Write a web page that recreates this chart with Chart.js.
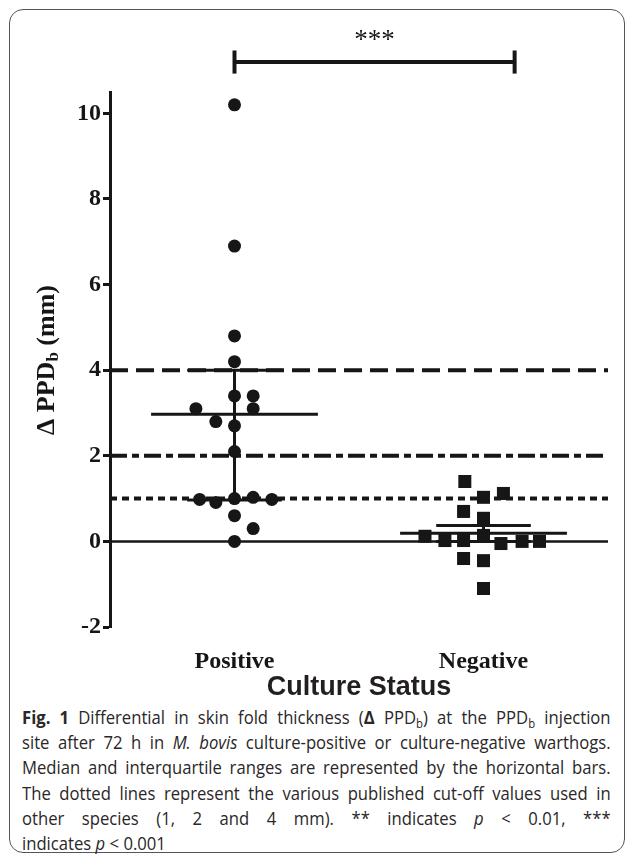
<!DOCTYPE html>
<html>
<head>
<meta charset="utf-8">
<script src="https://cdn.jsdelivr.net/npm/chart.js@4.4.1/dist/chart.umd.min.js"></script>
<style>
  html, body { margin: 0; padding: 0; background: #fff; }
  body { width: 627px; height: 858px; position: relative; overflow: hidden; }
  #frame { position: absolute; left: 9px; top: 9px; width: 616px; height: 844px; border: 1px solid #555; border-radius: 14px; box-sizing: border-box; }
  #chart { position: absolute; left: 0; top: 0; }
  #caption { position: absolute; left: 22px; top: 704px; width: 654px; transform: scaleX(0.9); transform-origin: 0 0; font-family: "Open Sans", sans-serif; font-size: 18.5px; line-height: 25.2px; color: #2a2728; }
  #caption div { white-space: nowrap; text-align: justify; text-align-last: justify; }
  #caption div.last { text-align-last: left; }
  #caption sub { font-size: 0.68em; line-height: 0; vertical-align: -0.3em; }
</style>
</head>
<body>
<div id="frame"></div>
<canvas id="chart" width="627" height="700"></canvas>
<div id="caption">
  <div><b>Fig. 1</b> Differential in skin fold thickness (<b>Δ</b> PPD<sub>b</sub>) at the PPD<sub>b</sub> injection</div>
  <div>site after 72 h in <i>M. bovis</i> culture-positive or culture-negative warthogs.</div>
  <div>Median and interquartile ranges are represented by the horizontal bars.</div>
  <div>The dotted lines represent the various published cut-off values used in</div>
  <div>other species (1, 2 and 4 mm). ** indicates <i>p</i> &lt; 0.01, ***</div>
  <div class="last">indicates <i>p</i> &lt; 0.001</div>
</div>
<script>
// группы и их позиции на оси x
const groups = ["Positive", "Negative"];
const groupX = [1, 3];

// значения (мм) и горизонтальный разброс точек внутри группы
const positiveValues = [10.2, 6.9, 4.8, 4.2, 3.4, 3.4, 3.1, 3.1, 2.8, 2.7, 2.1, 0.98, 0.91, 1.0, 1.03, 0.98, 0.6, 0.3, 0.0];
const positiveJitter = [0, 0, 0, 0, 0, 0.15, 0.15, -0.31, -0.15, 0, 0, -0.28, -0.15, 0, 0.15, 0.3, 0, 0.15, 0];
const negativeValues = [1.4, 1.03, 1.12, 0.7, 0.54, 0.12, 0.02, 0.02, 0.14, -0.05, 0.0, 0.0, -0.4, -0.45, -1.1];
const negativeJitter = [-0.15, 0, 0.16, -0.16, 0, -0.47, -0.31, -0.16, 0, 0.14, 0.31, 0.45, -0.16, 0, 0];

// медиана и квартили
const medians = [2.97, 0.19];
const lowerQuartiles = [0.97, 0.0];
const upperQuartiles = [4.0, 0.37];

// пороговые значения и подписи оси y
const cutoffs = [4, 2, 1];
const yTicks = [-2, 0, 2, 4, 6, 8, 10];

// скобка значимости
const bracketX = [1, 3.25];
const bracketY = 11.2;
const significance = "***";

const ink = "#161616";
const cutoffDash = { 4: [18, 8], 2: [17, 5, 7, 5], 1: [7, 5] };

function segment(x1, y1, x2, y2, extra) {
  return Object.assign({
    data: [{ x: x1, y: y1 }, { x: x2, y: y2 }],
    showLine: true,
    pointRadius: 0,
    borderColor: ink,
    borderWidth: 3,
    borderCapStyle: "butt",
  }, extra || {});
}

const datasets = [];

datasets.push({
  data: positiveValues.map((v, i) => ({ x: groupX[0] + positiveJitter[i], y: v })),
  pointStyle: "circle",
  pointRadius: 6.5,
  backgroundColor: ink,
  borderWidth: 0,
});
datasets.push({
  data: negativeValues.map((v, i) => ({ x: groupX[1] + negativeJitter[i], y: v })),
  pointStyle: "rect",
  pointRadius: 9.2,
  backgroundColor: ink,
  borderWidth: 0,
});

// медиана и межквартильный размах
groupX.forEach((gx, i) => {
  datasets.push(segment(gx - 0.67, medians[i], gx + 0.67, medians[i]));
  datasets.push(segment(gx - 0.38, upperQuartiles[i], gx + 0.38, upperQuartiles[i]));
  datasets.push(segment(gx - 0.38, lowerQuartiles[i], gx + 0.38, lowerQuartiles[i]));
  datasets.push(segment(gx, lowerQuartiles[i], gx, upperQuartiles[i]));
});

// пороговые линии
cutoffs.forEach((c) => {
  datasets.push(segment(0, c, 4, c, { borderDash: cutoffDash[c], borderWidth: 4 }));
});
// нулевая линия
datasets.push(segment(0, 0, 4, 0, { borderWidth: 2.5 }));

// скобка
datasets.push(segment(bracketX[0], bracketY, bracketX[1], bracketY, { borderWidth: 4, clip: false }));
bracketX.forEach((bx) => {
  datasets.push(segment(bx, bracketY - 0.27, bx, bracketY + 0.27, { borderWidth: 4, clip: false }));
});

const labelsPlugin = {
  id: "labels",
  afterDraw(chart) {
    const ctx = chart.ctx;
    const xs = chart.scales.x;
    const ys = chart.scales.y;
    ctx.save();
    ctx.fillStyle = ink;
    // звёздочки над скобкой
    ctx.font = "27px 'Liberation Serif'";
    ctx.textAlign = "center";
    ctx.textBaseline = "middle";
    ctx.fillText(significance, xs.getPixelForValue((bracketX[0] + bracketX[1]) / 2), ys.getPixelForValue(11.7));

    // подпись оси y с индексом
    ctx.translate(47, 360);
    ctx.rotate(-Math.PI / 2);
    ctx.textAlign = "left";
    ctx.textBaseline = "middle";
    const big = "bold 26px 'Liberation Serif'";
    const small = "bold 17px 'Liberation Serif'";
    ctx.font = big;
    const w1 = ctx.measureText("Δ PPD").width;
    const w3 = ctx.measureText(" (mm)").width;
    ctx.font = small;
    const w2 = ctx.measureText("b").width;
    let x = -(w1 + w2 + w3) / 2;
    ctx.font = big;
    ctx.fillText("Δ PPD", x, 0);
    x += w1;
    ctx.font = small;
    ctx.fillText("b", x, 7);
    x += w2;
    ctx.font = big;
    ctx.fillText(" (mm)", x, 0);
    ctx.restore();
  },
};

new Chart(document.getElementById("chart"), {
  type: "scatter",
  data: { datasets: datasets },
  plugins: [labelsPlugin],
  options: {
    responsive: false,
    animation: false,
    events: [],
    layout: { padding: { left: 0, right: 19, top: 92, bottom: 0 } },
    plugins: { legend: { display: false }, tooltip: { enabled: false } },
    scales: {
      x: {
        type: "linear",
        min: 0,
        max: 4,
        afterBuildTicks: (s) => { s.ticks = groupX.map((v) => ({ value: v })); },
        afterFit: (s) => { s.height = 73; },
        ticks: {
          callback: (v) => groups[groupX.indexOf(v)],
          font: { family: "Liberation Serif", weight: "bold", size: 24 },
          color: ink,
          padding: 20,
          autoSkip: false,
          maxRotation: 0,
        },
        grid: { display: false, drawTicks: false },
        border: { display: false },
        title: {
          display: true,
          text: "Culture Status",
          font: { family: "Liberation Sans", weight: "bold", size: 27, lineHeight: 1 },
          color: "#231f20",
          padding: { top: 0, bottom: -1 },
        },
      },
      y: {
        type: "linear",
        min: -2,
        max: 10.5,
        afterBuildTicks: (s) => { s.ticks = yTicks.map((v) => ({ value: v })); },
        afterFit: (s) => { s.width = 110; },
        ticks: {
          font: { family: "Liberation Serif", weight: "bold", size: 24 },
          color: ink,
          padding: 2,
        },
        grid: { drawOnChartArea: false, drawTicks: true, tickLength: 7, tickWidth: 3, tickColor: ink, color: ink },
        border: { display: true, color: ink, width: 3 },
      },
    },
  },
});
</script>
</body>
</html>
